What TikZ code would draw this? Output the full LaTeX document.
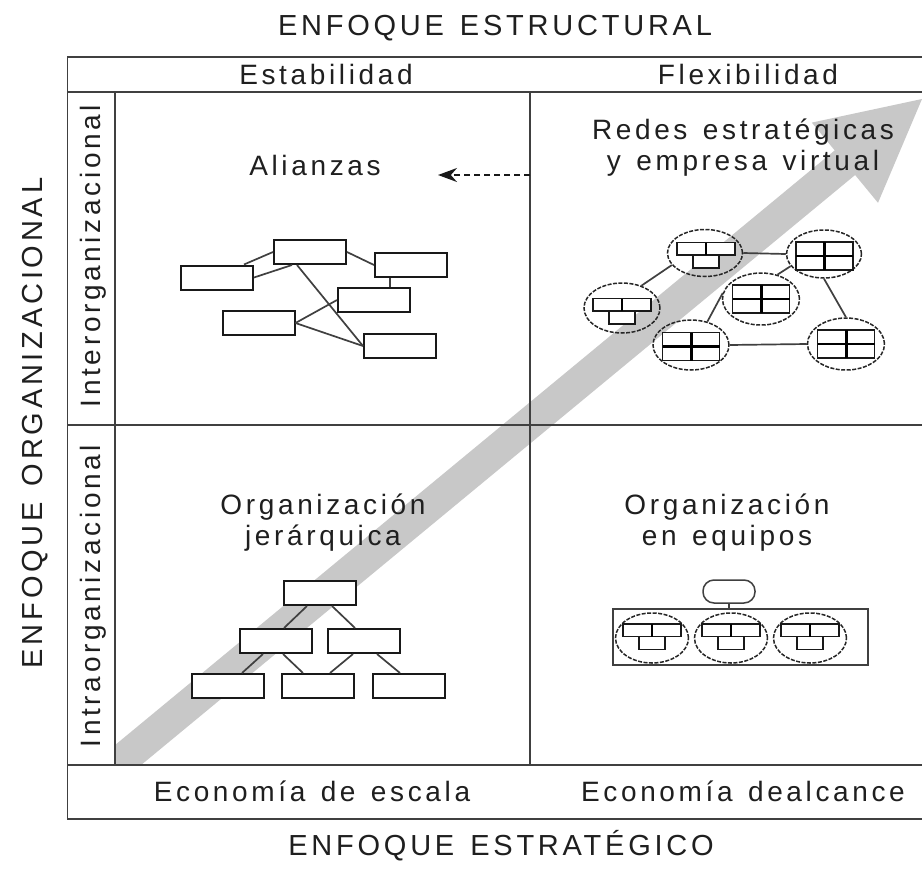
\documentclass[tikz,border=0pt]{standalone}
\usepackage{fontspec}
\setmainfont{Liberation Sans}[LetterSpace=13,WordSpace=1.35]
\usetikzlibrary{shapes.geometric,arrows.meta}
\newcommand\bodysize{\fontsize{28pt}{31pt}\selectfont}
\newcommand\titlesize{\fontsize{29pt}{32pt}\selectfont}
\definecolor{arrowgray}{RGB}{200,200,200}
\tikzset{
  trio/.pic={
    \draw[cell] (-29,-12.5) rectangle (0,0);
    \draw[cell] (0,-12.5) rectangle (29,0);
    \draw[cell] (-13,0) rectangle (13,13);
    \draw[line width=2.8pt] (0,-12.5) -- (0,0);
  },
  quad/.pic={
    \draw[cell] (-28.5,-14) rectangle (28.5,14);
    \draw[line width=2.8pt] (-28.5,0) -- (28.5,0);
    \draw[line width=3pt] (0,-14) -- (0,14);
  }
}
\begin{document}
\begin{tikzpicture}[x=1pt,y=-1pt,
  frame/.style={draw=black!75,line width=1.5pt},
  netbox/.style={draw=black!90,line width=2pt,fill=white,minimum width=72pt,minimum height=24pt,inner sep=0pt},
  link/.style={draw=black!75,line width=1.7pt},
  cell/.style={draw=black!90,line width=1.5pt,fill=white},
  unit/.style={ellipse,draw=black!85,line width=1.5pt,dash pattern=on 4pt off 1.5pt,minimum width=76pt,minimum height=50pt,inner sep=0pt},
  lbl/.style={font=\bodysize,text=black!88,inner sep=0pt,anchor=base},
  ttl/.style={font=\titlesize,text=black!88,inner sep=0pt,anchor=base}]
\useasboundingbox (0,0) rectangle (922,871);
\fill[white] (0,0) rectangle (922,871);

% big gray arrow
\begin{scope}
  \clip (115,92) rectangle (922,765);
  \fill[arrowgray] (105.8,752.7) -- (834.7,150.4) -- (811.8,122.6) -- (922,99)
    -- (878,202.8) -- (855.1,175) -- (126.2,777.3) -- cycle;
\end{scope}

% frame
\draw[frame] (922,57) -- (67.5,57) -- (67.5,819) -- (922,819);
\draw[frame] (67.5,92) -- (922,92);
\draw[frame] (67.5,425) -- (922,425);
\draw[frame] (67.5,765) -- (922,765);
\draw[frame] (115,92) -- (115,765);
\draw[frame] (530,92) -- (530,765);

% headings
\node[ttl] (tt) at (495,35) {ENFOQUE ESTRUCTURAL};
\node[ttl] (tb) at (501,855) {ENFOQUE ESTRATÉGICO};
\node[ttl,rotate=90] (tl) at (42,423) {ENFOQUE ORGANIZACIONAL};
\node[lbl] (hest) at (326,84) {Estabilidad};
\node[lbl] (hflex) at (748,84) {Flexibilidad};
\node[lbl,rotate=90] (hinter) at (100,256) {Interorganizacional};
\node[lbl,rotate=90] (hintra) at (100,596) {Intraorganizacional};
\node[lbl] (hesc) at (312,801) {Economía de escala};
\node[lbl] (halc) at (743,801) {Economía dealcance};

% quadrant titles (base = baseline of last line)
\node[lbl] (qal) at (315,175) {Alianzas};
\node[lbl,align=center] (qred) at (743,170) {Redes estratégicas\\y empresa virtual};
\node[lbl,align=center] (qjer) at (323,545) {Organización\\jerárquica};
\node[lbl,align=center] (qeq) at (727,545) {Organización\\en equipos};

% dashed arrow
\coordinate (d0) at (530,175);
\coordinate (d1) at (438,175);
\draw[black!90,line width=1.6pt,dash pattern=on 6pt off 4pt,-{Stealth[length=19pt,width=14pt]}] (d0) -- (d1);

% alliances network
\node[netbox] (a1) at (217,277.5) {};
\node[netbox] (a2) at (310,252) {};
\node[netbox] (a3) at (411,265) {};
\node[netbox] (a4) at (374,300) {};
\node[netbox] (a5) at (258.5,323) {};
\node[netbox] (a6) at (400,346) {};
\draw[link] ([xshift=-10pt]a1.north east) -- (a2.west);
\draw[link] (a1.east) -- ([xshift=-18pt]a2.south);
\draw[link] (a2.east) -- (a3.west);
\draw[link] ([xshift=-13pt]a2.south) -- (a6.west);
\draw[link] ([xshift=-21pt]a3.south) -- ([xshift=-21pt]a3.south |- a4.north);
\draw[link] (a5.east) -- (a4.west);
\draw[link] (a5.east) -- (a6.west);

% hierarchy
\node[netbox] (h0) at (320,593) {};
\node[netbox] (h1) at (275.5,641) {};
\node[netbox] (h2) at (363.5,641) {};
\node[netbox] (h3) at (227.5,686) {};
\node[netbox] (h4) at (318,686) {};
\node[netbox] (h5) at (409,686) {};
\draw[link] ([xshift=-13pt]h0.south) -- ([xshift=8.5pt]h1.north);
\draw[link] ([xshift=12pt]h0.south) -- ([xshift=-8.5pt]h2.north);
\draw[link] ([xshift=-12.5pt]h1.south) -- ([xshift=14.5pt]h3.north);
\draw[link] ([xshift=7.5pt]h1.south) -- ([xshift=-15pt]h4.north);
\draw[link] ([xshift=-10.5pt]h2.south) -- ([xshift=12pt]h4.north);
\draw[link] ([xshift=13.5pt]h2.south) -- ([xshift=-9pt]h5.north);

% strategic network
\node[unit,minimum width=75pt,minimum height=47pt] (e1) at (705,253) {};
\node[unit,minimum width=75pt,minimum height=48pt] (e2) at (824,254) {};
\node[unit] (e3) at (622,308) {};
\node[unit,minimum width=77pt,minimum height=52pt] (e4) at (761,299) {};
\node[unit] (e5) at (691,345) {};
\node[unit,minimum width=77pt,minimum height=52pt] (e6) at (846,344) {};
\pic at (706,255) {trio};
\pic at (622,311) {trio};
\pic at (824.5,256) {quad};
\pic at (761,299) {quad};
\pic at (691,346.5) {quad};
\pic at (846,344) {quad};
\draw[link] (e1.east) -- (e2.west);
\draw[link] (e1.200) -- (e3.49);
\draw[link] (e2.200) -- (e4.56);
\draw[link] (e4.171) -- (e5.55);
\draw[link] (e2.south) -- (e6.north);
\draw[link] (e5.east) -- (e6.west);

% teams
\node[draw=black!75,line width=1.5pt,rounded corners=11pt,minimum width=52pt,minimum height=23pt,inner sep=0pt] (boss) at (729,591.5) {};
\node[draw=black!75,line width=1.5pt,minimum width=255pt,minimum height=56pt,inner sep=0pt] (team) at (740.5,637) {};
\draw[link] (boss.south) -- (boss.south |- team.north);
\node[unit,minimum width=73pt,minimum height=50pt] (t1) at (652,638) {};
\node[unit,minimum width=73pt,minimum height=50pt] (t2) at (731,638) {};
\node[unit,minimum width=73pt,minimum height=50pt] (t3) at (810,638) {};
\pic at (652,636.5) {trio};
\pic at (731,636.5) {trio};
\pic at (810,636.5) {trio};
\end{tikzpicture}
\end{document}
